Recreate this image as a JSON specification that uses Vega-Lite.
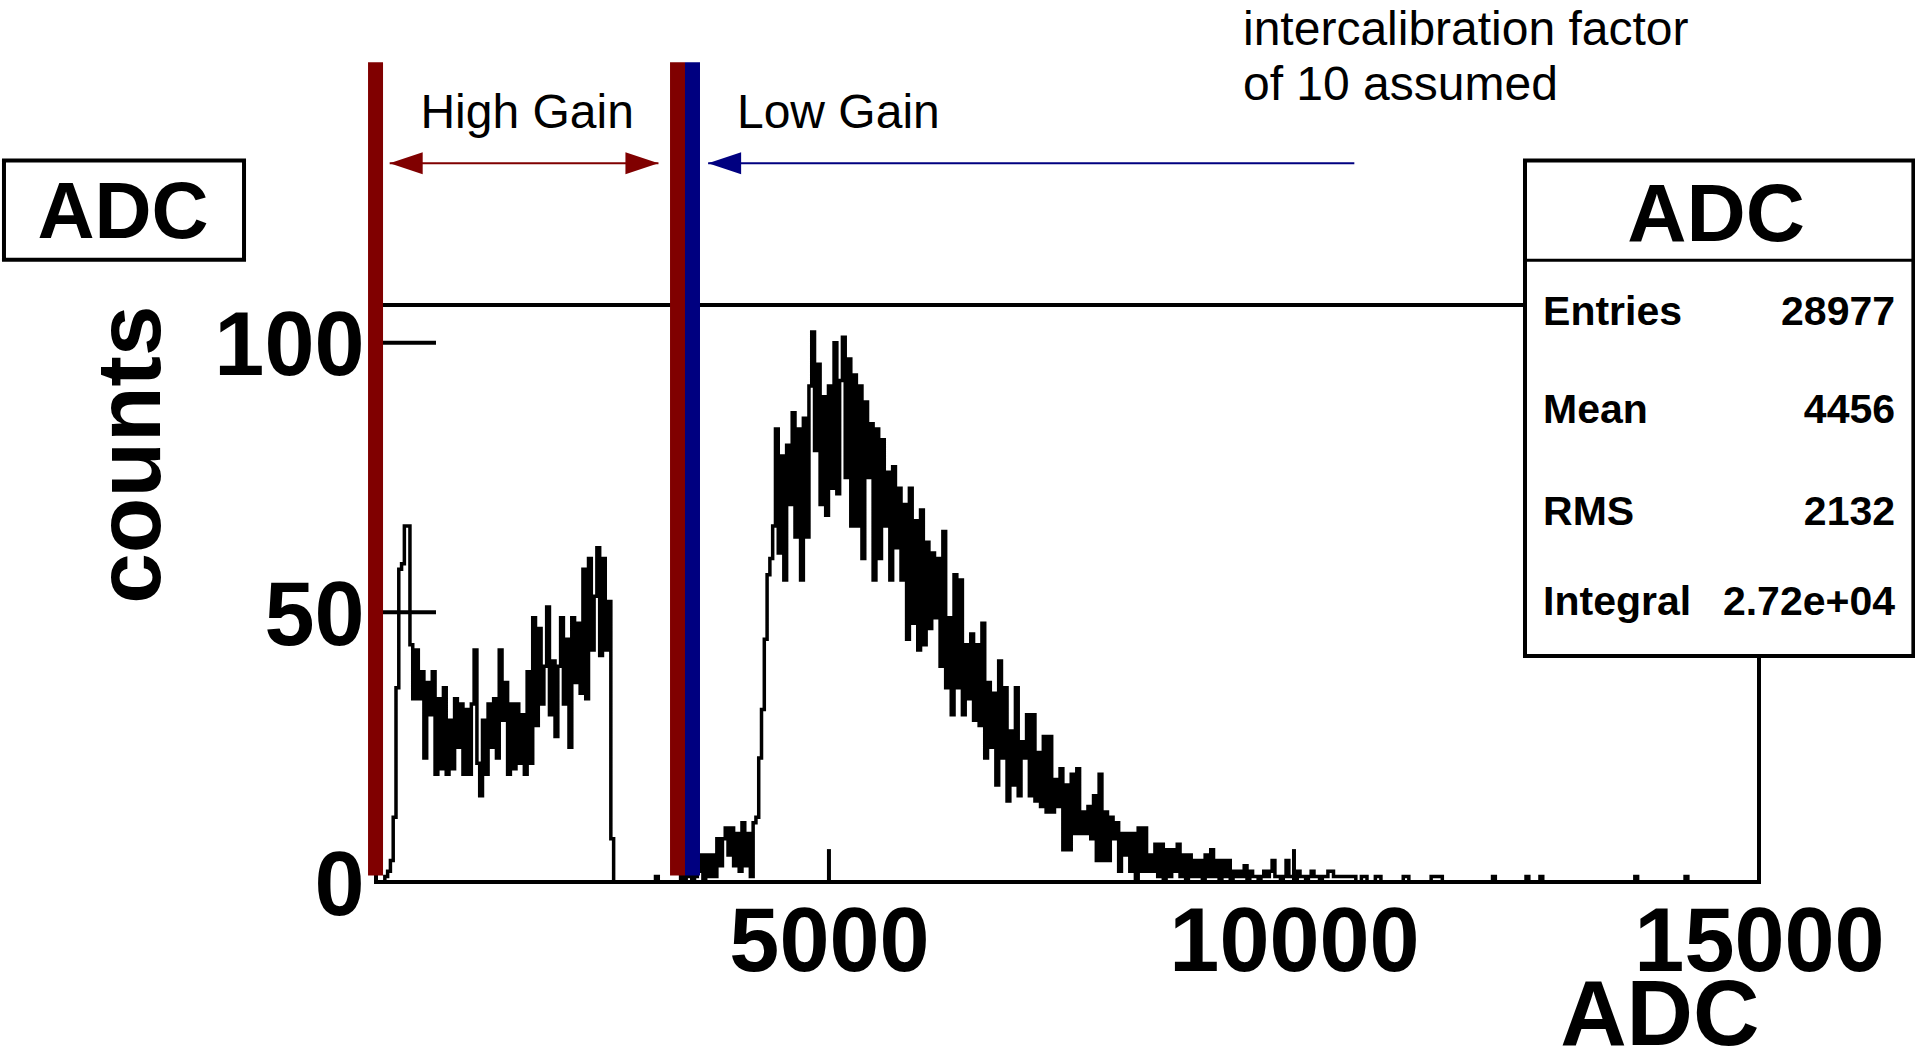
{
  "$schema": "https://vega.github.io/schema/vega-lite/v6.json",
  "usermeta": {"embedOptions": {"actions": false}},
  "width": 1383,
  "height": 577,
  "autosize": {"type": "none"},
  "padding": {"left": 376, "top": 305, "right": 156, "bottom": 170},
  "background": "white",
  "config": {
    "font": "Liberation Sans",
    "view": {"stroke": "black", "strokeWidth": 4},
    "axis": {"labelColor": "black", "titleColor": "black", "grid": false, "domain": false, "ticks": false, "tickSize": 0, "labelLimit": 0, "titleLimit": 0}
  },
  "resolve": {"axis": {"x": "independent", "y": "independent"}},
  "datasets": {
    "adc": [
      {"adc": 135, "counts": 0}, {"adc": 225, "counts": 1}, {"adc": 255, "counts": 2}, {"adc": 285, "counts": 4},
      {"adc": 315, "counts": 12}, {"adc": 345, "counts": 36}, {"adc": 375, "counts": 58}, {"adc": 405, "counts": 59},
      {"adc": 435, "counts": 66}, {"adc": 465, "counts": 66}, {"adc": 495, "counts": 44}, {"adc": 525, "counts": 34},
      {"adc": 555, "counts": 43}, {"adc": 585, "counts": 34}, {"adc": 615, "counts": 39}, {"adc": 645, "counts": 23},
      {"adc": 675, "counts": 37}, {"adc": 705, "counts": 31}, {"adc": 735, "counts": 39}, {"adc": 765, "counts": 20},
      {"adc": 795, "counts": 34}, {"adc": 825, "counts": 21}, {"adc": 855, "counts": 36}, {"adc": 885, "counts": 20},
      {"adc": 915, "counts": 30}, {"adc": 945, "counts": 21}, {"adc": 975, "counts": 34}, {"adc": 1005, "counts": 25},
      {"adc": 1035, "counts": 33}, {"adc": 1065, "counts": 20}, {"adc": 1095, "counts": 32}, {"adc": 1125, "counts": 20},
      {"adc": 1155, "counts": 33}, {"adc": 1185, "counts": 43}, {"adc": 1215, "counts": 22}, {"adc": 1245, "counts": 16},
      {"adc": 1275, "counts": 30}, {"adc": 1305, "counts": 20}, {"adc": 1335, "counts": 33}, {"adc": 1365, "counts": 25},
      {"adc": 1395, "counts": 34}, {"adc": 1425, "counts": 23}, {"adc": 1455, "counts": 43}, {"adc": 1485, "counts": 30},
      {"adc": 1515, "counts": 37}, {"adc": 1545, "counts": 20}, {"adc": 1575, "counts": 33}, {"adc": 1605, "counts": 21},
      {"adc": 1635, "counts": 33}, {"adc": 1665, "counts": 22}, {"adc": 1695, "counts": 31}, {"adc": 1725, "counts": 20},
      {"adc": 1755, "counts": 39}, {"adc": 1785, "counts": 22}, {"adc": 1815, "counts": 49}, {"adc": 1845, "counts": 29},
      {"adc": 1875, "counts": 47}, {"adc": 1905, "counts": 33}, {"adc": 1935, "counts": 40}, {"adc": 1965, "counts": 51},
      {"adc": 1995, "counts": 31}, {"adc": 2025, "counts": 41}, {"adc": 2055, "counts": 27}, {"adc": 2085, "counts": 40},
      {"adc": 2115, "counts": 49}, {"adc": 2145, "counts": 33}, {"adc": 2175, "counts": 45}, {"adc": 2205, "counts": 25},
      {"adc": 2235, "counts": 49}, {"adc": 2265, "counts": 37}, {"adc": 2295, "counts": 48}, {"adc": 2325, "counts": 35},
      {"adc": 2355, "counts": 58}, {"adc": 2385, "counts": 34}, {"adc": 2415, "counts": 60}, {"adc": 2445, "counts": 43},
      {"adc": 2475, "counts": 53}, {"adc": 2505, "counts": 62}, {"adc": 2535, "counts": 42}, {"adc": 2565, "counts": 60},
      {"adc": 2595, "counts": 43}, {"adc": 2625, "counts": 52}, {"adc": 2655, "counts": 8}, {"adc": 2685, "counts": 0},
      {"adc": 3135, "counts": 1}, {"adc": 3165, "counts": 0}, {"adc": 3405, "counts": 1}, {"adc": 3435, "counts": 0},
      {"adc": 3465, "counts": 1}, {"adc": 3495, "counts": 1}, {"adc": 3525, "counts": 0}, {"adc": 3555, "counts": 1},
      {"adc": 3585, "counts": 2}, {"adc": 3615, "counts": 5}, {"adc": 3645, "counts": 0}, {"adc": 3675, "counts": 5},
      {"adc": 3705, "counts": 1}, {"adc": 3735, "counts": 5}, {"adc": 3765, "counts": 1}, {"adc": 3795, "counts": 8},
      {"adc": 3825, "counts": 3}, {"adc": 3855, "counts": 8}, {"adc": 3885, "counts": 10}, {"adc": 3915, "counts": 5},
      {"adc": 3945, "counts": 10}, {"adc": 3975, "counts": 3}, {"adc": 4005, "counts": 9}, {"adc": 4035, "counts": 2},
      {"adc": 4065, "counts": 11}, {"adc": 4095, "counts": 3}, {"adc": 4125, "counts": 9}, {"adc": 4155, "counts": 1},
      {"adc": 4185, "counts": 11}, {"adc": 4215, "counts": 12}, {"adc": 4245, "counts": 23}, {"adc": 4275, "counts": 32},
      {"adc": 4305, "counts": 45}, {"adc": 4335, "counts": 57}, {"adc": 4365, "counts": 60}, {"adc": 4395, "counts": 66},
      {"adc": 4425, "counts": 84}, {"adc": 4455, "counts": 61}, {"adc": 4485, "counts": 79}, {"adc": 4515, "counts": 56},
      {"adc": 4545, "counts": 81}, {"adc": 4575, "counts": 70}, {"adc": 4605, "counts": 87}, {"adc": 4635, "counts": 64},
      {"adc": 4665, "counts": 84}, {"adc": 4695, "counts": 56}, {"adc": 4725, "counts": 86}, {"adc": 4755, "counts": 64},
      {"adc": 4785, "counts": 92}, {"adc": 4815, "counts": 102}, {"adc": 4845, "counts": 80}, {"adc": 4875, "counts": 96},
      {"adc": 4905, "counts": 70}, {"adc": 4935, "counts": 90}, {"adc": 4965, "counts": 68}, {"adc": 4995, "counts": 92},
      {"adc": 5025, "counts": 73}, {"adc": 5055, "counts": 100}, {"adc": 5085, "counts": 72}, {"adc": 5115, "counts": 93},
      {"adc": 5145, "counts": 101}, {"adc": 5175, "counts": 75}, {"adc": 5205, "counts": 97}, {"adc": 5235, "counts": 66},
      {"adc": 5265, "counts": 94}, {"adc": 5295, "counts": 66}, {"adc": 5325, "counts": 92}, {"adc": 5355, "counts": 60},
      {"adc": 5385, "counts": 89}, {"adc": 5415, "counts": 75}, {"adc": 5445, "counts": 85}, {"adc": 5475, "counts": 56},
      {"adc": 5505, "counts": 84}, {"adc": 5535, "counts": 60}, {"adc": 5565, "counts": 82}, {"adc": 5595, "counts": 66},
      {"adc": 5625, "counts": 76}, {"adc": 5655, "counts": 56}, {"adc": 5685, "counts": 77}, {"adc": 5715, "counts": 62},
      {"adc": 5745, "counts": 73}, {"adc": 5775, "counts": 56}, {"adc": 5805, "counts": 70}, {"adc": 5835, "counts": 45},
      {"adc": 5865, "counts": 73}, {"adc": 5895, "counts": 48}, {"adc": 5925, "counts": 67}, {"adc": 5955, "counts": 43},
      {"adc": 5985, "counts": 69}, {"adc": 6015, "counts": 44}, {"adc": 6045, "counts": 63}, {"adc": 6075, "counts": 47},
      {"adc": 6105, "counts": 61}, {"adc": 6135, "counts": 49}, {"adc": 6165, "counts": 60}, {"adc": 6195, "counts": 40},
      {"adc": 6225, "counts": 65}, {"adc": 6255, "counts": 36}, {"adc": 6285, "counts": 49}, {"adc": 6315, "counts": 31},
      {"adc": 6345, "counts": 57}, {"adc": 6375, "counts": 36}, {"adc": 6405, "counts": 56}, {"adc": 6435, "counts": 31},
      {"adc": 6465, "counts": 44}, {"adc": 6495, "counts": 34}, {"adc": 6525, "counts": 46}, {"adc": 6555, "counts": 30},
      {"adc": 6585, "counts": 44}, {"adc": 6615, "counts": 29}, {"adc": 6645, "counts": 48}, {"adc": 6675, "counts": 23},
      {"adc": 6705, "counts": 37}, {"adc": 6735, "counts": 25}, {"adc": 6765, "counts": 35}, {"adc": 6795, "counts": 18},
      {"adc": 6825, "counts": 41}, {"adc": 6855, "counts": 23}, {"adc": 6885, "counts": 36}, {"adc": 6915, "counts": 15},
      {"adc": 6945, "counts": 28}, {"adc": 6975, "counts": 18}, {"adc": 7005, "counts": 36}, {"adc": 7035, "counts": 16},
      {"adc": 7065, "counts": 26}, {"adc": 7095, "counts": 23}, {"adc": 7125, "counts": 31}, {"adc": 7155, "counts": 16},
      {"adc": 7185, "counts": 31}, {"adc": 7215, "counts": 15}, {"adc": 7245, "counts": 24}, {"adc": 7275, "counts": 14},
      {"adc": 7305, "counts": 27}, {"adc": 7335, "counts": 13}, {"adc": 7365, "counts": 27}, {"adc": 7395, "counts": 13},
      {"adc": 7425, "counts": 19}, {"adc": 7455, "counts": 14}, {"adc": 7485, "counts": 21}, {"adc": 7515, "counts": 6},
      {"adc": 7545, "counts": 18}, {"adc": 7575, "counts": 6}, {"adc": 7605, "counts": 20}, {"adc": 7635, "counts": 9},
      {"adc": 7665, "counts": 21}, {"adc": 7695, "counts": 9}, {"adc": 7725, "counts": 13}, {"adc": 7755, "counts": 9},
      {"adc": 7785, "counts": 14}, {"adc": 7815, "counts": 8}, {"adc": 7845, "counts": 16}, {"adc": 7875, "counts": 4},
      {"adc": 7905, "counts": 20}, {"adc": 7935, "counts": 4}, {"adc": 7965, "counts": 13}, {"adc": 7995, "counts": 4},
      {"adc": 8025, "counts": 12}, {"adc": 8055, "counts": 8}, {"adc": 8085, "counts": 11}, {"adc": 8115, "counts": 2},
      {"adc": 8145, "counts": 9}, {"adc": 8175, "counts": 5}, {"adc": 8205, "counts": 9}, {"adc": 8235, "counts": 2},
      {"adc": 8265, "counts": 9}, {"adc": 8295, "counts": 0}, {"adc": 8325, "counts": 10}, {"adc": 8355, "counts": 2},
      {"adc": 8385, "counts": 10}, {"adc": 8415, "counts": 2}, {"adc": 8445, "counts": 5}, {"adc": 8475, "counts": 2},
      {"adc": 8505, "counts": 7}, {"adc": 8535, "counts": 1}, {"adc": 8565, "counts": 7}, {"adc": 8595, "counts": 0},
      {"adc": 8625, "counts": 6}, {"adc": 8655, "counts": 1}, {"adc": 8685, "counts": 6}, {"adc": 8715, "counts": 2},
      {"adc": 8745, "counts": 7}, {"adc": 8775, "counts": 1}, {"adc": 8805, "counts": 5}, {"adc": 8835, "counts": 0},
      {"adc": 8865, "counts": 5}, {"adc": 8895, "counts": 1}, {"adc": 8925, "counts": 4}, {"adc": 8955, "counts": 1},
      {"adc": 8985, "counts": 4}, {"adc": 9015, "counts": 0}, {"adc": 9045, "counts": 5}, {"adc": 9075, "counts": 1},
      {"adc": 9105, "counts": 6}, {"adc": 9135, "counts": 1}, {"adc": 9165, "counts": 4}, {"adc": 9195, "counts": 0},
      {"adc": 9225, "counts": 4}, {"adc": 9255, "counts": 1}, {"adc": 9285, "counts": 4}, {"adc": 9315, "counts": 0},
      {"adc": 9345, "counts": 2}, {"adc": 9375, "counts": 1}, {"adc": 9405, "counts": 2}, {"adc": 9435, "counts": 1},
      {"adc": 9465, "counts": 3}, {"adc": 9495, "counts": 0}, {"adc": 9525, "counts": 2}, {"adc": 9555, "counts": 1},
      {"adc": 9585, "counts": 1}, {"adc": 9615, "counts": 0}, {"adc": 9645, "counts": 1}, {"adc": 9675, "counts": 2},
      {"adc": 9705, "counts": 1}, {"adc": 9735, "counts": 2}, {"adc": 9765, "counts": 4}, {"adc": 9795, "counts": 1},
      {"adc": 9825, "counts": 1}, {"adc": 9855, "counts": 0}, {"adc": 9885, "counts": 1}, {"adc": 9915, "counts": 4},
      {"adc": 9945, "counts": 1}, {"adc": 9975, "counts": 1}, {"adc": 10005, "counts": 0}, {"adc": 10035, "counts": 2},
      {"adc": 10065, "counts": 1}, {"adc": 10095, "counts": 1}, {"adc": 10125, "counts": 0}, {"adc": 10155, "counts": 1},
      {"adc": 10185, "counts": 2}, {"adc": 10215, "counts": 1}, {"adc": 10245, "counts": 1}, {"adc": 10275, "counts": 0},
      {"adc": 10305, "counts": 1}, {"adc": 10335, "counts": 1}, {"adc": 10365, "counts": 2}, {"adc": 10395, "counts": 2},
      {"adc": 10425, "counts": 1}, {"adc": 10455, "counts": 1}, {"adc": 10485, "counts": 1}, {"adc": 10515, "counts": 1},
      {"adc": 10545, "counts": 1}, {"adc": 10575, "counts": 1}, {"adc": 10605, "counts": 1}, {"adc": 10635, "counts": 1},
      {"adc": 10665, "counts": 0}, {"adc": 10725, "counts": 1}, {"adc": 10755, "counts": 1}, {"adc": 10785, "counts": 0},
      {"adc": 10875, "counts": 1}, {"adc": 10905, "counts": 1}, {"adc": 10935, "counts": 0}, {"adc": 11175, "counts": 1},
      {"adc": 11205, "counts": 1}, {"adc": 11235, "counts": 0}, {"adc": 11475, "counts": 1}, {"adc": 11505, "counts": 1},
      {"adc": 11535, "counts": 1}, {"adc": 11565, "counts": 1}, {"adc": 11595, "counts": 0}, {"adc": 12135, "counts": 1},
      {"adc": 12165, "counts": 0}, {"adc": 12495, "counts": 1}, {"adc": 12525, "counts": 0}, {"adc": 12645, "counts": 1},
      {"adc": 12675, "counts": 0}, {"adc": 13665, "counts": 1}, {"adc": 13695, "counts": 0}, {"adc": 14205, "counts": 1},
      {"adc": 14235, "counts": 0}
    ]
  },
  "layer": [
    {
      "data": {"name": "adc"},
      "mark": {"type": "line", "interpolate": "step-after", "color": "black", "strokeWidth": 3.5},
      "encoding": {
        "x": {
          "field": "adc", "type": "quantitative",
          "scale": {"domain": [130, 15000], "nice": false, "zero": false},
          "axis": {
            "values": [5000, 10000, 15000], "format": "d",
            "labelFontSize": 90, "labelFontWeight": "bold", "labelPadding": 17,
            "labelFlush": false, "labelOverlap": false, "labelLimit": 0,
            "title": "ADC", "titleFontSize": 92, "titleFontWeight": "bold",
            "titleAnchor": "end", "titleAlign": "right", "titleBaseline": "alphabetic",
            "titleX": 1383, "titleY": 162
          }
        },
        "y": {
          "field": "counts", "type": "quantitative",
          "scale": {"domain": [0, 107], "nice": false},
          "axis": {
            "values": [0, 50, 100], "format": "d",
            "labelFontSize": 90, "labelFontWeight": "bold", "labelPadding": 12, "labelOffset": 5,
            "labelFlush": false, "labelOverlap": false, "labelLimit": 0,
            "title": "counts", "titleFontSize": 91, "titleFontWeight": "bold",
            "titleAngle": 270, "titleAlign": "right", "titleBaseline": "alphabetic",
            "titleX": -217, "titleY": 0
          }
        }
      }
    },
    {
      "data": {"values": [{"tick": 5000}, {"tick": 10000}]},
      "mark": {"type": "rule", "color": "black", "strokeWidth": 4},
      "encoding": {
        "x": {"field": "tick", "type": "quantitative", "axis": null},
        "y": {"datum": 0, "axis": null},
        "y2": {"datum": 6.1}
      }
    },
    {
      "data": {"values": [{"tick": 50}, {"tick": 100}]},
      "mark": {"type": "rule", "color": "black", "strokeWidth": 4},
      "encoding": {
        "y": {"field": "tick", "type": "quantitative", "axis": null},
        "x": {"datum": 130, "axis": null},
        "x2": {"datum": 775}
      }
    },
    {
      "data": {"values": [{"adc": 125, "gain": "high"}, {"adc": 3372, "gain": "high"}, {"adc": 3533, "gain": "low"}]},
      "mark": {"type": "rule", "strokeWidth": 15},
      "encoding": {
        "x": {"field": "adc", "type": "quantitative", "axis": null},
        "y": {"datum": 1.2, "axis": null},
        "y2": {"datum": 152},
        "color": {"field": "gain", "type": "nominal", "scale": {"domain": ["high", "low"], "range": ["#800000", "#000080"]}, "legend": null}
      }
    },
    {
      "data": {"values": [{"from": 277, "to": 3167, "gain": "high"}, {"from": 3701, "to": 10649, "gain": "low"}]},
      "mark": {"type": "rule", "strokeWidth": 2},
      "encoding": {
        "x": {"field": "from", "type": "quantitative", "axis": null},
        "x2": {"field": "to"},
        "y": {"datum": 133.3, "axis": null},
        "color": {"field": "gain", "type": "nominal", "legend": null}
      }
    },
    {
      "data": {"values": [{"tip": 277, "dir": "left", "gain": "high"}, {"tip": 3167, "dir": "right", "gain": "high"}, {"tip": 3701, "dir": "left", "gain": "low"}]},
      "mark": {"type": "point", "filled": true, "opacity": 1, "strokeWidth": 0, "size": 1089},
      "encoding": {
        "x": {"field": "tip", "type": "quantitative", "axis": null},
        "y": {"datum": 133.3, "axis": null},
        "shape": {"field": "dir", "type": "nominal", "scale": {"domain": ["left", "right"], "range": ["M0,0L2,-0.667L2,0.667Z", "M0,0L-2,-0.667L-2,0.667Z"]}, "legend": null},
        "color": {"field": "gain", "type": "nominal", "legend": null}
      }
    },
    {
      "data": {"values": [{"note": "High Gain"}]},
      "mark": {"type": "text", "fontSize": 48, "align": "left", "baseline": "alphabetic", "color": "black"},
      "encoding": {"text": {"field": "note"}, "x": {"datum": 608, "axis": null}, "y": {"datum": 139.9, "axis": null}}
    },
    {
      "data": {"values": [{"note": "Low Gain"}]},
      "mark": {"type": "text", "fontSize": 48, "align": "left", "baseline": "alphabetic", "color": "black"},
      "encoding": {"text": {"field": "note"}, "x": {"datum": 4011, "axis": null}, "y": {"datum": 139.9, "axis": null}}
    },
    {
      "data": {"values": [{"note": "intercalibration factor"}]},
      "mark": {"type": "text", "fontSize": 48, "align": "left", "baseline": "alphabetic", "color": "black"},
      "encoding": {"text": {"field": "note"}, "x": {"datum": 9452, "axis": null}, "y": {"datum": 155.2, "axis": null}}
    },
    {
      "data": {"values": [{"note": "of 10 assumed"}]},
      "mark": {"type": "text", "fontSize": 48, "align": "left", "baseline": "alphabetic", "color": "black"},
      "encoding": {"text": {"field": "note"}, "x": {"datum": 9452, "axis": null}, "y": {"datum": 145.0, "axis": null}}
    },
    {
      "data": {"values": [{"title": "ADC"}]},
      "layer": [
        {
          "mark": {"type": "rect", "fill": "white", "stroke": "black", "strokeWidth": 4},
          "encoding": {"x": {"datum": -3870, "axis": null}, "x2": {"datum": -1289}, "y": {"datum": 133.8, "axis": null}, "y2": {"datum": 115.4}}
        },
        {
          "mark": {"type": "text", "fontSize": 79, "fontWeight": "bold", "align": "center", "baseline": "alphabetic", "color": "black"},
          "encoding": {"text": {"field": "title"}, "x": {"datum": -2590, "axis": null}, "y": {"datum": 119.4, "axis": null}}
        }
      ]
    },
    {
      "data": {"values": [{"title": "ADC"}]},
      "layer": [
        {
          "mark": {"type": "rect", "fill": "white", "stroke": "black", "strokeWidth": 4},
          "encoding": {"x": {"datum": 12484, "axis": null}, "x2": {"datum": 16660}, "y": {"datum": 133.8, "axis": null}, "y2": {"datum": 41.9}}
        },
        {
          "mark": {"type": "rule", "color": "black", "strokeWidth": 3},
          "encoding": {"x": {"datum": 12484, "axis": null}, "x2": {"datum": 16660}, "y": {"datum": 115.3, "axis": null}}
        },
        {
          "mark": {"type": "text", "fontSize": 82, "fontWeight": "bold", "align": "center", "baseline": "alphabetic", "color": "black"},
          "encoding": {"text": {"field": "title"}, "x": {"datum": 14538, "axis": null}, "y": {"datum": 118.9, "axis": null}}
        }
      ]
    },
    {
      "data": {"values": [{"stat": "Entries", "val": "28977"}]},
      "encoding": {"y": {"datum": 103.3, "axis": null}},
      "layer": [
        {"mark": {"type": "text", "fontSize": 41, "fontWeight": "bold", "align": "left", "baseline": "alphabetic", "color": "black"},
         "encoding": {"text": {"field": "stat"}, "x": {"datum": 12678, "axis": null}}},
        {"mark": {"type": "text", "fontSize": 41, "fontWeight": "bold", "align": "right", "baseline": "alphabetic", "color": "black"},
         "encoding": {"text": {"field": "val"}, "x": {"datum": 16463, "axis": null}}}
      ]
    },
    {
      "data": {"values": [{"stat": "Mean", "val": "4456"}]},
      "encoding": {"y": {"datum": 85.1, "axis": null}},
      "layer": [
        {"mark": {"type": "text", "fontSize": 41, "fontWeight": "bold", "align": "left", "baseline": "alphabetic", "color": "black"},
         "encoding": {"text": {"field": "stat"}, "x": {"datum": 12678, "axis": null}}},
        {"mark": {"type": "text", "fontSize": 41, "fontWeight": "bold", "align": "right", "baseline": "alphabetic", "color": "black"},
         "encoding": {"text": {"field": "val"}, "x": {"datum": 16463, "axis": null}}}
      ]
    },
    {
      "data": {"values": [{"stat": "RMS", "val": "2132"}]},
      "encoding": {"y": {"datum": 66.2, "axis": null}},
      "layer": [
        {"mark": {"type": "text", "fontSize": 41, "fontWeight": "bold", "align": "left", "baseline": "alphabetic", "color": "black"},
         "encoding": {"text": {"field": "stat"}, "x": {"datum": 12678, "axis": null}}},
        {"mark": {"type": "text", "fontSize": 41, "fontWeight": "bold", "align": "right", "baseline": "alphabetic", "color": "black"},
         "encoding": {"text": {"field": "val"}, "x": {"datum": 16463, "axis": null}}}
      ]
    },
    {
      "data": {"values": [{"stat": "Integral", "val": "2.72e+04"}]},
      "encoding": {"y": {"datum": 49.5, "axis": null}},
      "layer": [
        {"mark": {"type": "text", "fontSize": 41, "fontWeight": "bold", "align": "left", "baseline": "alphabetic", "color": "black"},
         "encoding": {"text": {"field": "stat"}, "x": {"datum": 12678, "axis": null}}},
        {"mark": {"type": "text", "fontSize": 41, "fontWeight": "bold", "align": "right", "baseline": "alphabetic", "color": "black"},
         "encoding": {"text": {"field": "val"}, "x": {"datum": 16463, "axis": null}}}
      ]
    }
  ]
}
